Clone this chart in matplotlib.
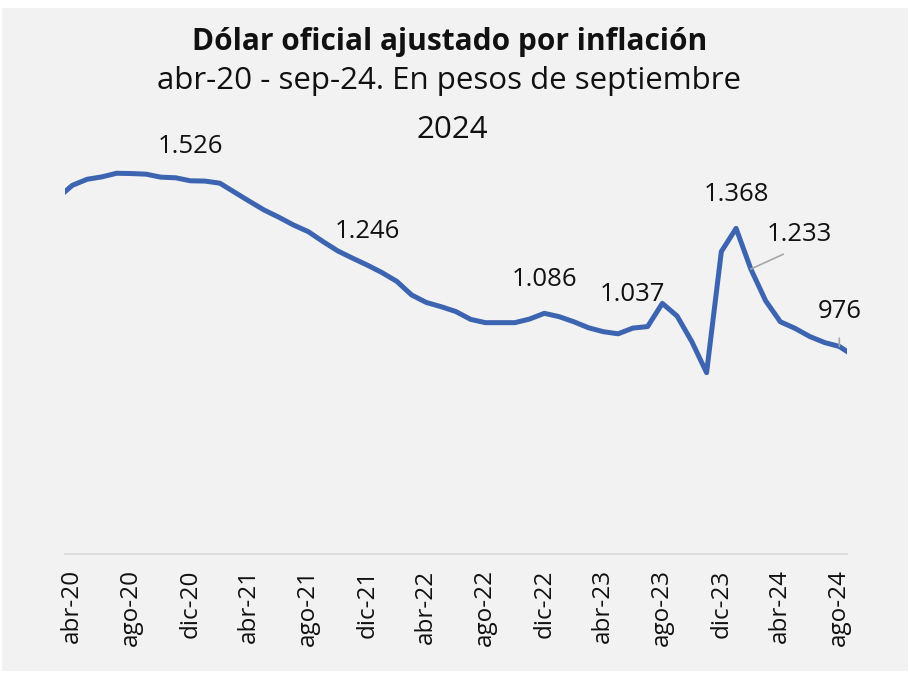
import numpy as np
import matplotlib
matplotlib.use("Agg")
from matplotlib import pyplot as plt
from matplotlib.patches import Rectangle

plt.rcParams['font.family'] = ['Open Sans', 'DejaVu Sans']

# monthly series, mar-20 .. sep-24 (pesos de septiembre 2024)
valores = [1469, 1511, 1531, 1539, 1551, 1550, 1548, 1538, 1536, 1526,
           1525, 1518, 1488, 1458, 1429, 1405, 1379, 1357, 1324, 1293,
           1269, 1246, 1221, 1192, 1147, 1122, 1108, 1092, 1066, 1055,
           1055, 1055, 1067, 1086, 1075, 1058, 1038, 1025, 1018, 1037,
           1042, 1119, 1077, 992, 889, 1291, 1368, 1233, 1128, 1058,
           1036, 1009, 989, 976, 944]
# index 0 = abr-20
meses_idx = np.arange(-1, len(valores) - 1)

tick_idx = np.arange(0, 53, 4)
tick_lab = ['abr-20', 'ago-20', 'dic-20', 'abr-21', 'ago-21', 'dic-21', 'abr-22',
            'ago-22', 'dic-22', 'abr-23', 'ago-23', 'dic-23', 'abr-24', 'ago-24']

# labelled points: (month index, text)
etiquetas = [(8, '1.526'), (20, '1.246'), (32, '1.086'), (38, '1.037'),
             (45, '1.368'), (46, '1.233'), (52, '976')]

W, H = 910, 673
fig = plt.figure(figsize=(W / 100, H / 100), dpi=100, facecolor='white')
fig.patches.append(Rectangle((2 / W, 1 - 671 / H), 906 / W, 663 / H,
                             transform=fig.transFigure, facecolor='#f2f2f2',
                             edgecolor='none', zorder=-5))

ax = fig.add_axes([65 / W, 1 - 554 / H, 781.7 / W, (554 - 158.5) / H])
ax.set_facecolor('none')
ax.plot(meses_idx, valores, color='#3c64b1', lw=3.6, solid_joinstyle='round',
        solid_capstyle='butt', zorder=3)
ax.set_xlim(-0.5, 52.5)
ax.set_ylim(287, 1600)

for s in ['top', 'right', 'left']:
    ax.spines[s].set_visible(False)
ax.spines['bottom'].set_color('#d9d9d9')
ax.spines['bottom'].set_linewidth(1.3)
ax.set_yticks([])
ax.set_xticks(tick_idx)
ax.set_xticklabels(tick_lab, rotation=90, fontsize=17.5, color='#111111')
ax.tick_params(axis='x', length=0, pad=11)

for i, txt in etiquetas:
    v = valores[i + 1]
    if txt == '1.233':
        ax.annotate(txt, xy=(i, v), xytext=(35, 25), textcoords='offset points',
                    ha='center', va='center', fontsize=18.5, color='#111111',
                    arrowprops=dict(arrowstyle='-', color='#a6a6a6', lw=1.2,
                                    relpos=(0.5, 0), shrinkA=8, shrinkB=0),
                    annotation_clip=False)
    elif txt == '976':
        ax.annotate(txt, xy=(i, v), xytext=(0, 25), textcoords='offset points',
                    ha='center', va='center', fontsize=18.5, color='#111111',
                    arrowprops=dict(arrowstyle='-', color='#a6a6a6', lw=1.2,
                                    relpos=(0.5, 0), shrinkA=8, shrinkB=0),
                    annotation_clip=False)
    else:
        ax.annotate(txt, xy=(i, v), xytext=(0, 24.5), textcoords='offset points',
                    ha='center', va='center', fontsize=18.5, color='#111111',
                    annotation_clip=False)

fig.text(450 / W, 1 - 42 / H, 'Dólar oficial ajustado por inflación',
         ha='center', va='center', fontsize=21.5, fontweight='bold', color='#111111')
fig.text(449 / W, 1 - 81 / H, 'abr-20 - sep-24. En pesos de septiembre',
         ha='center', va='center', fontsize=22.5, color='#111111')
fig.text(452 / W, 1 - 130 / H, '2024',
         ha='center', va='center', fontsize=22.5, color='#111111')

fig.savefig('out.png', dpi=100, facecolor='white')
